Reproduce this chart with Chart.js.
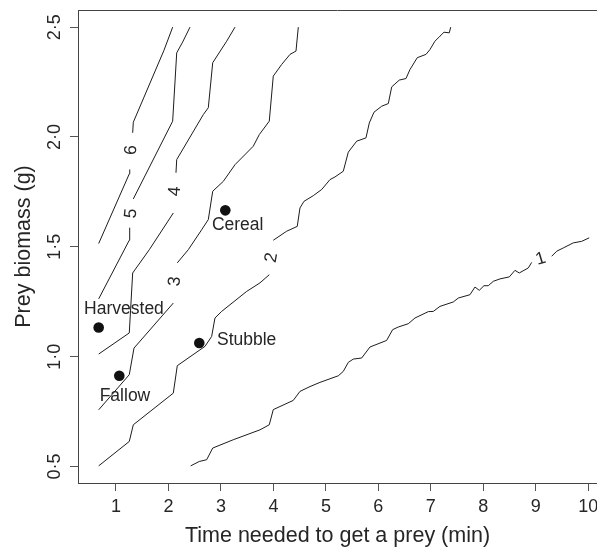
<!DOCTYPE html>
<html>
<head>
<meta charset="utf-8">
<script src="https://cdn.jsdelivr.net/npm/chart.js@4/dist/chart.umd.min.js"></script>
<style>
  html, body { margin: 0; padding: 0; background: #fff; overflow: hidden; }
  #wrap { width: 597px; height: 549px; }
</style>
</head>
<body>
<div id="wrap"><canvas id="c" width="597" height="549"></canvas></div>
<script>
// contour lines (x = time in min, y = prey biomass in g), each split where its label sits
const level1 = [
  [[2.423,0.503],[2.587,0.523],[2.728,0.531],[2.843,0.584],[3.235,0.622],[3.744,0.667],[3.921,0.690],
   [3.997,0.759],[4.378,0.801],[4.506,0.842],[4.697,0.864],[4.887,0.883],[5.236,0.913],[5.331,0.933],
   [5.427,0.974],[5.522,0.989],[5.682,0.994],[5.84,1.044],[6.158,1.074],[6.272,1.123],[6.379,1.135],
   [6.57,1.150],[6.697,1.176],[6.951,1.205],[7.046,1.206],[7.174,1.229],[7.427,1.249],[7.523,1.267],
   [7.745,1.282],[7.841,1.317],[7.923,1.302],[8.012,1.323],[8.094,1.323],[8.19,1.343],[8.317,1.354],
   [8.494,1.363],[8.603,1.393],[8.685,1.381],[8.857,1.404],[8.921,1.429]],
  [[9.302,1.457],[9.398,1.480],[9.524,1.495],[9.714,1.518],[9.874,1.525],[10.018,1.541]]
];
const level2 = [
  [[0.67,0.503],[1.253,0.614],[1.33,0.690],[2.092,0.834],[2.168,0.959],[2.696,1.047],[2.823,1.092],
   [2.886,1.176],[3.013,1.206],[3.49,1.297],[3.744,1.336],[3.921,1.373]],
  [[3.997,1.530],[4.252,1.571],[4.454,1.593],[4.506,1.677],[4.582,1.707],[4.76,1.733],[4.92,1.761],
   [5.078,1.806],[5.173,1.818],[5.331,1.844],[5.427,1.931],[5.587,1.981],[5.764,1.996],[5.827,2.064],
   [5.917,2.113],[6.063,2.140],[6.189,2.152],[6.254,2.228],[6.398,2.259],[6.526,2.266],[6.602,2.307],
   [6.741,2.361],[6.907,2.376],[6.983,2.398],[7.078,2.436],[7.174,2.459],[7.25,2.477],[7.351,2.474],
   [7.378,2.5]]
];
const level3 = [
  [[0.67,0.758],[1.253,0.918],[1.343,1.039],[2.092,1.244]],
  [[2.168,1.427],[2.378,1.487],[2.633,1.578],[2.759,1.624],[2.843,1.753],[3.045,1.798],[3.268,1.874],
   [3.616,1.958],[3.731,2.011],[3.921,2.072],[3.997,2.277],[4.157,2.330],[4.316,2.376],[4.43,2.391],
   [4.474,2.5]]
];
const level4 = [
  [[0.67,1.012],[1.253,1.108],[1.318,1.381],[1.635,1.487],[2.092,1.654]],
  [[2.143,1.837],[2.157,1.897],[2.664,2.102],[2.759,2.133],[2.843,2.338],[3.109,2.436],[3.268,2.5]]
];
const level5 = [
  [[0.67,1.263],[1.253,1.530],[1.261,1.587]],
  [[1.33,1.718],[2.08,2.072],[2.157,2.383],[2.27,2.432],[2.41,2.5]]
];
const level6 = [
  [[0.67,1.515],[1.253,1.832],[1.262,1.852]],
  [[1.318,2.019],[1.33,2.067],[1.915,2.395],[2.08,2.5]]
];

// contour labels
const contourText  = ['1', '2', '3', '4', '5', '6'];
const contourLabX  = [9.093, 3.963, 2.124, 2.124, 1.29, 1.29];
const contourLabY  = [1.445, 1.451, 1.343, 1.753, 1.652, 1.94];
const contourAngle = [-17, -80, -84, -86, -84, -86];

// habitats
const siteNames = ['Harvested', 'Fallow', 'Stubble', 'Cereal'];
const siteX     = [0.67, 1.063, 2.587, 3.083];
const siteY     = [1.133, 0.913, 1.062, 1.666];
const siteLabX  = [1.152, 1.171, 3.49, 3.319];
const siteLabY  = [1.217, 0.822, 1.074, 1.597];

const xTickValues = [1, 2, 3, 4, 5, 6, 7, 8, 9, 10];
const yTickValues = [0.5, 1.0, 1.5, 2.0, 2.5];
const yTickLabels = ['0·5', '1·0', '1·5', '2·0', '2·5'];

const INK  = '#1c1c1c';
const TEXT = '#262626';
const FONT = "'Liberation Sans', Arial, Helvetica, sans-serif";

const datasets = [];
[level1, level2, level3, level4, level5, level6].forEach(level => {
  level.forEach(seg => {
    datasets.push({
      data: seg.map(p => ({ x: p[0], y: p[1] })),
      showLine: true,
      borderColor: INK,
      borderWidth: 1,
      pointRadius: 0,
      tension: 0,
      fill: false,
    });
  });
});
datasets.push({
  data: siteX.map((x, k) => ({ x, y: siteY[k] })),
  showLine: false,
  pointRadius: 5.3,
  pointBackgroundColor: '#111',
  pointBorderWidth: 0,
});

const annotate = {
  id: 'annotate',
  afterDatasetsDraw(chart) {
    const { ctx, chartArea: a, scales: { x, y } } = chart;
    ctx.save();
    // top of the frame
    ctx.strokeStyle = '#444';
    ctx.lineWidth = 1;
    ctx.beginPath();
    ctx.moveTo(a.left, Math.round(a.top) + 0.5);
    ctx.lineTo(a.right, Math.round(a.top) + 0.5);
    ctx.stroke();

    ctx.fillStyle = TEXT;
    ctx.textAlign = 'center';
    ctx.textBaseline = 'middle';

    // y tick labels, rotated like R's las=0
    ctx.font = '18px ' + FONT;
    yTickValues.forEach((v, k) => {
      ctx.save();
      ctx.translate(55, y.getPixelForValue(v));
      ctx.rotate(-Math.PI / 2);
      ctx.fillText(yTickLabels[k], 0, 0);
      ctx.restore();
    });

    // contour level labels
    ctx.font = '17.5px ' + FONT;
    contourText.forEach((t, k) => {
      ctx.save();
      ctx.translate(x.getPixelForValue(contourLabX[k]), y.getPixelForValue(contourLabY[k]));
      ctx.rotate(contourAngle[k] * Math.PI / 180);
      ctx.fillText(t, 0, 0);
      ctx.restore();
    });

    // habitat names
    ctx.font = '17.5px ' + FONT;
    siteNames.forEach((t, k) => {
      ctx.fillText(t, x.getPixelForValue(siteLabX[k]), y.getPixelForValue(siteLabY[k]));
    });
    ctx.restore();
  }
};

new Chart(document.getElementById('c'), {
  type: 'scatter',
  data: { datasets },
  options: {
    responsive: false,
    animation: false,
    layout: { autoPadding: false, padding: { top: 10, right: 0, bottom: 0, left: 0 } },
    plugins: { legend: { display: false }, tooltip: { enabled: false } },
    scales: {
      x: {
        type: 'linear',
        min: 0.276, max: 10.166,
        afterBuildTicks: s => { s.ticks = xTickValues.map(v => ({ value: v })); },
        afterFit: s => { s.height = 66; s.paddingLeft = 0; s.paddingRight = 0; },
        grid: { drawOnChartArea: false, tickLength: 8, tickColor: '#555', lineWidth: 1 },
        border: { display: true, color: '#444', width: 1 },
        ticks: { color: TEXT, font: { family: FONT, size: 18 }, padding: 5, maxRotation: 0, autoSkip: false },
        title: {
          display: true, text: 'Time needed to get a prey (min)', color: TEXT,
          font: { family: FONT, size: 21.5, lineHeight: 1.2 }, padding: { top: 0, bottom: 0 }
        }
      },
      y: {
        type: 'linear',
        min: 0.425, max: 2.578,
        afterBuildTicks: s => { s.ticks = yTickValues.map(v => ({ value: v })); },
        afterFit: s => { s.width = 78; s.paddingTop = 0; s.paddingBottom = 0; },
        grid: { drawOnChartArea: false, tickLength: 8, tickColor: '#555', lineWidth: 1 },
        border: { display: true, color: '#444', width: 1 },
        ticks: { display: false },
        title: {
          display: true, text: 'Prey biomass (g)', color: TEXT,
          font: { family: FONT, size: 21.5, lineHeight: 1.2 }, padding: { top: 11, bottom: 0 }
        }
      }
    }
  },
  plugins: [annotate]
});
</script>
</body>
</html>
